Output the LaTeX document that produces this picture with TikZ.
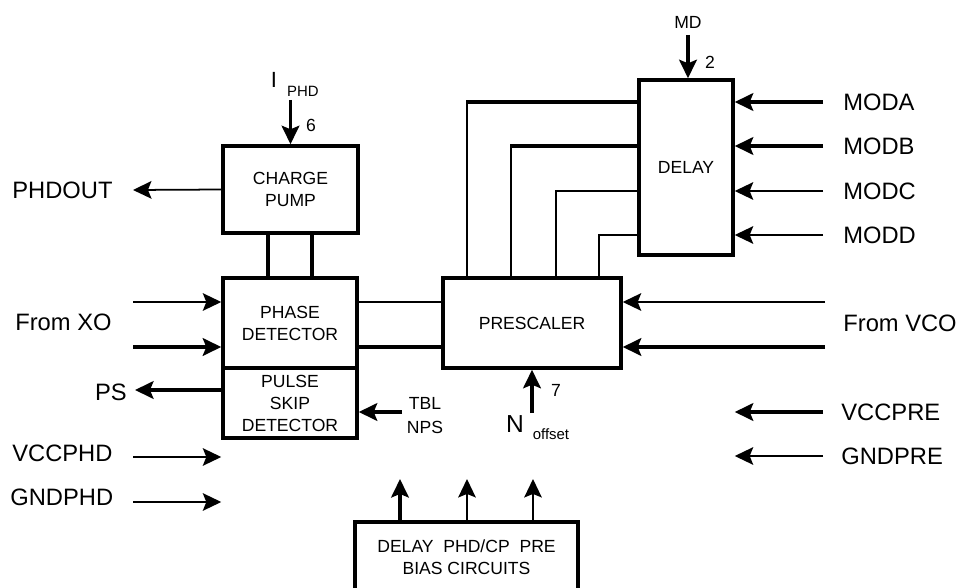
\documentclass[tikz,border=0pt]{standalone}
\usepackage{fontspec}
\setmainfont{Liberation Sans}
\usetikzlibrary{arrows.meta,calc}
\tikzset{
  blk/.style={draw,line width=2pt,inner sep=0pt,align=center,font=\fontsize{10}{12.5}\selectfont},
  sig/.style={line width=1pt},
  bus/.style={line width=2pt},
  arr/.style={-{Stealth[length=10.5pt,width=10pt,inset=2pt]}},
  lbl/.style={inner sep=0pt,font=\fontsize{13.5}{16}\selectfont},
  tag/.style={inner sep=0pt,font=\fontsize{10}{12}\selectfont},
  sub/.style={inner sep=0pt,font=\fontsize{8.5}{10}\selectfont}
}
\begin{document}
\begin{tikzpicture}[x=0.02cm,y=-0.02cm]
  \useasboundingbox (0,0) rectangle (967,588);
  % blocks
  \node[blk,minimum width=2.70cm,minimum height=1.74cm] (cp) at (290.5,189.5) {CHARGE\\PUMP};
  \node[blk,minimum width=2.68cm,minimum height=1.80cm] (pd) at (290,323) {PHASE\\DETECTOR};
  \node[blk,minimum width=2.68cm,minimum height=1.40cm] (psd) at (290,403) {PULSE\\SKIP\\DETECTOR};
  \node[blk,minimum width=3.56cm,minimum height=1.80cm] (pre) at (532,323) {PRESCALER};
  \node[blk,minimum width=1.88cm,minimum height=3.50cm] (dly) at (686,167.5) {DELAY};
  \node[blk,minimum width=4.46cm,minimum height=1.40cm] (bias) at (466.5,557) {DELAY~~PHD/CP~~PRE\\BIAS CIRCUITS};

  % charge pump / phase detector links
  \draw[bus] ($(cp.south)+(-22.5,0)$) -- ($(pd.north)+(-22,0)$);
  \draw[bus] ($(cp.south)+(21.5,0)$) -- ($(pd.north)+(22,0)$);

  % phase detector to prescaler
  \coordinate (pda) at (400,302);
  \coordinate (pdb) at (400,347);
  \draw[sig] (pda -| pd.east) -- (pda -| pre.west);
  \draw[bus] (pdb -| pd.east) -- (pdb -| pre.west);

  % delay outputs to prescaler
  \coordinate (da) at (467,102);
  \coordinate (db) at (511,146);
  \coordinate (dc) at (556,191);
  \coordinate (dd) at (599,235);
  \draw[bus,shorten >=-0.5pt] (da -| dly.west) -- (da);
  \draw[sig] (da) -- (da |- pre.north);
  \draw[bus,shorten >=-0.5pt] (db -| dly.west) -- (db);
  \draw[sig] (db) -- (db |- pre.north);
  \draw[sig] (dc -| dly.west) -- (dc) -- (dc |- pre.north);
  \draw[sig] (dd -| dly.west) -- (dd) -- (dd |- pre.north);

  % inputs from top
  \coordinate (iphd) at (290.5,100);
  \draw[bus,arr] (iphd) -- (cp.north);
  \node[anchor=center,font=\fontsize{12.5}{14}\selectfont,inner sep=0pt] (ilbl) at (274,80) {I};
  \node[sub] (isub) at (303,91) {PHD};
  \node[tag] (six) at (311,125) {6};
  \coordinate (md) at (688,35);
  \draw[bus,arr] (md) -- (md |- dly.north);
  \node[tag] (mdlbl) at (688,22) {MD};
  \node[tag] (two) at (710,62) {2};

  % left side
  \coordinate (phdout) at (133,190);
  \draw[sig,arr] (cp.west) -- (phdout);
  \node[lbl,anchor=west] (phdoutlbl) at (12,190) {PHDOUT};
  \coordinate (xoa) at (133,302);
  \coordinate (xob) at (133,347);
  \draw[sig,arr] (xoa) -- (xoa -| pd.west);
  \draw[bus,arr] (xob) -- (xob -| pd.west);
  \node[lbl,anchor=west] (xolbl) at (15,322) {From XO};
  \coordinate (ps) at (135,390);
  \draw[bus,arr] (ps -| psd.west) -- (ps);
  \node[lbl,anchor=east] (pslbl) at (127,392) {PS};
  \coordinate (vccphd) at (133,457);
  \draw[sig,arr] (vccphd) -- (vccphd -| psd.west);
  \node[lbl,anchor=west] (vccphdlbl) at (12,453) {VCCPHD};
  \coordinate (gndphd) at (133,502);
  \draw[sig,arr] (gndphd) -- (gndphd -| psd.west);
  \node[lbl,anchor=west] (gndphdlbl) at (10,497) {GNDPHD};

  % pulse skip and prescaler controls
  \coordinate (tbl) at (402,412);
  \draw[bus,arr] (tbl) -- (tbl -| psd.east);
  \node[tag] (tbllbl) at (425,403) {TBL};
  \node[tag] (npslbl) at (425,427) {NPS};
  \coordinate (noff) at (532,413);
  \draw[bus,arr] (noff) -- (noff |- pre.south);
  \node[tag] (seven) at (556,390) {7};
  \node[inner sep=0pt,font=\fontsize{14}{16}\selectfont] (nlbl) at (515,424) {N};
  \node[sub] (nsub) at (551,434) {offset};

  % right side
  \coordinate (moda) at (823,102);
  \coordinate (modb) at (823,146);
  \coordinate (modc) at (823,191);
  \coordinate (modd) at (823,235);
  \draw[bus,arr] (moda) -- (moda -| dly.east);
  \draw[bus,arr] (modb) -- (modb -| dly.east);
  \draw[sig,arr] (modc) -- (modc -| dly.east);
  \draw[sig,arr] (modd) -- (modd -| dly.east);
  \node[lbl,anchor=west] (modalbl) at (843,102) {MODA};
  \node[lbl,anchor=west] (modblbl) at (843,146) {MODB};
  \node[lbl,anchor=west] (modclbl) at (843,191) {MODC};
  \node[lbl,anchor=west] (moddlbl) at (843,235) {MODD};
  \coordinate (vcoa) at (825,302);
  \coordinate (vcob) at (825,347);
  \draw[sig,arr] (vcoa) -- (vcoa -| pre.east);
  \draw[bus,arr] (vcob) -- (vcob -| pre.east);
  \node[lbl,anchor=west] (vcolbl) at (843,323) {From VCO};
  \coordinate (vccpre) at (823,412);
  \coordinate (gndpre) at (823,456);
  \draw[bus,arr] (vccpre) -- (vccpre -| dly.east);
  \draw[sig,arr] (gndpre) -- (gndpre -| dly.east);
  \node[lbl,anchor=west] (vccprelbl) at (841,412) {VCCPRE};
  \node[lbl,anchor=west] (gndprelbl) at (841,456) {GNDPRE};

  % bias outputs
  \coordinate (bd) at (400,479);
  \coordinate (bp) at (467,479);
  \coordinate (bq) at (533,479);
  \draw[bus,arr] (bd |- bias.north) -- (bd);
  \draw[sig,arr] (bp |- bias.north) -- (bp);
  \draw[sig,arr] (bq |- bias.north) -- (bq);
\end{tikzpicture}
\end{document}
